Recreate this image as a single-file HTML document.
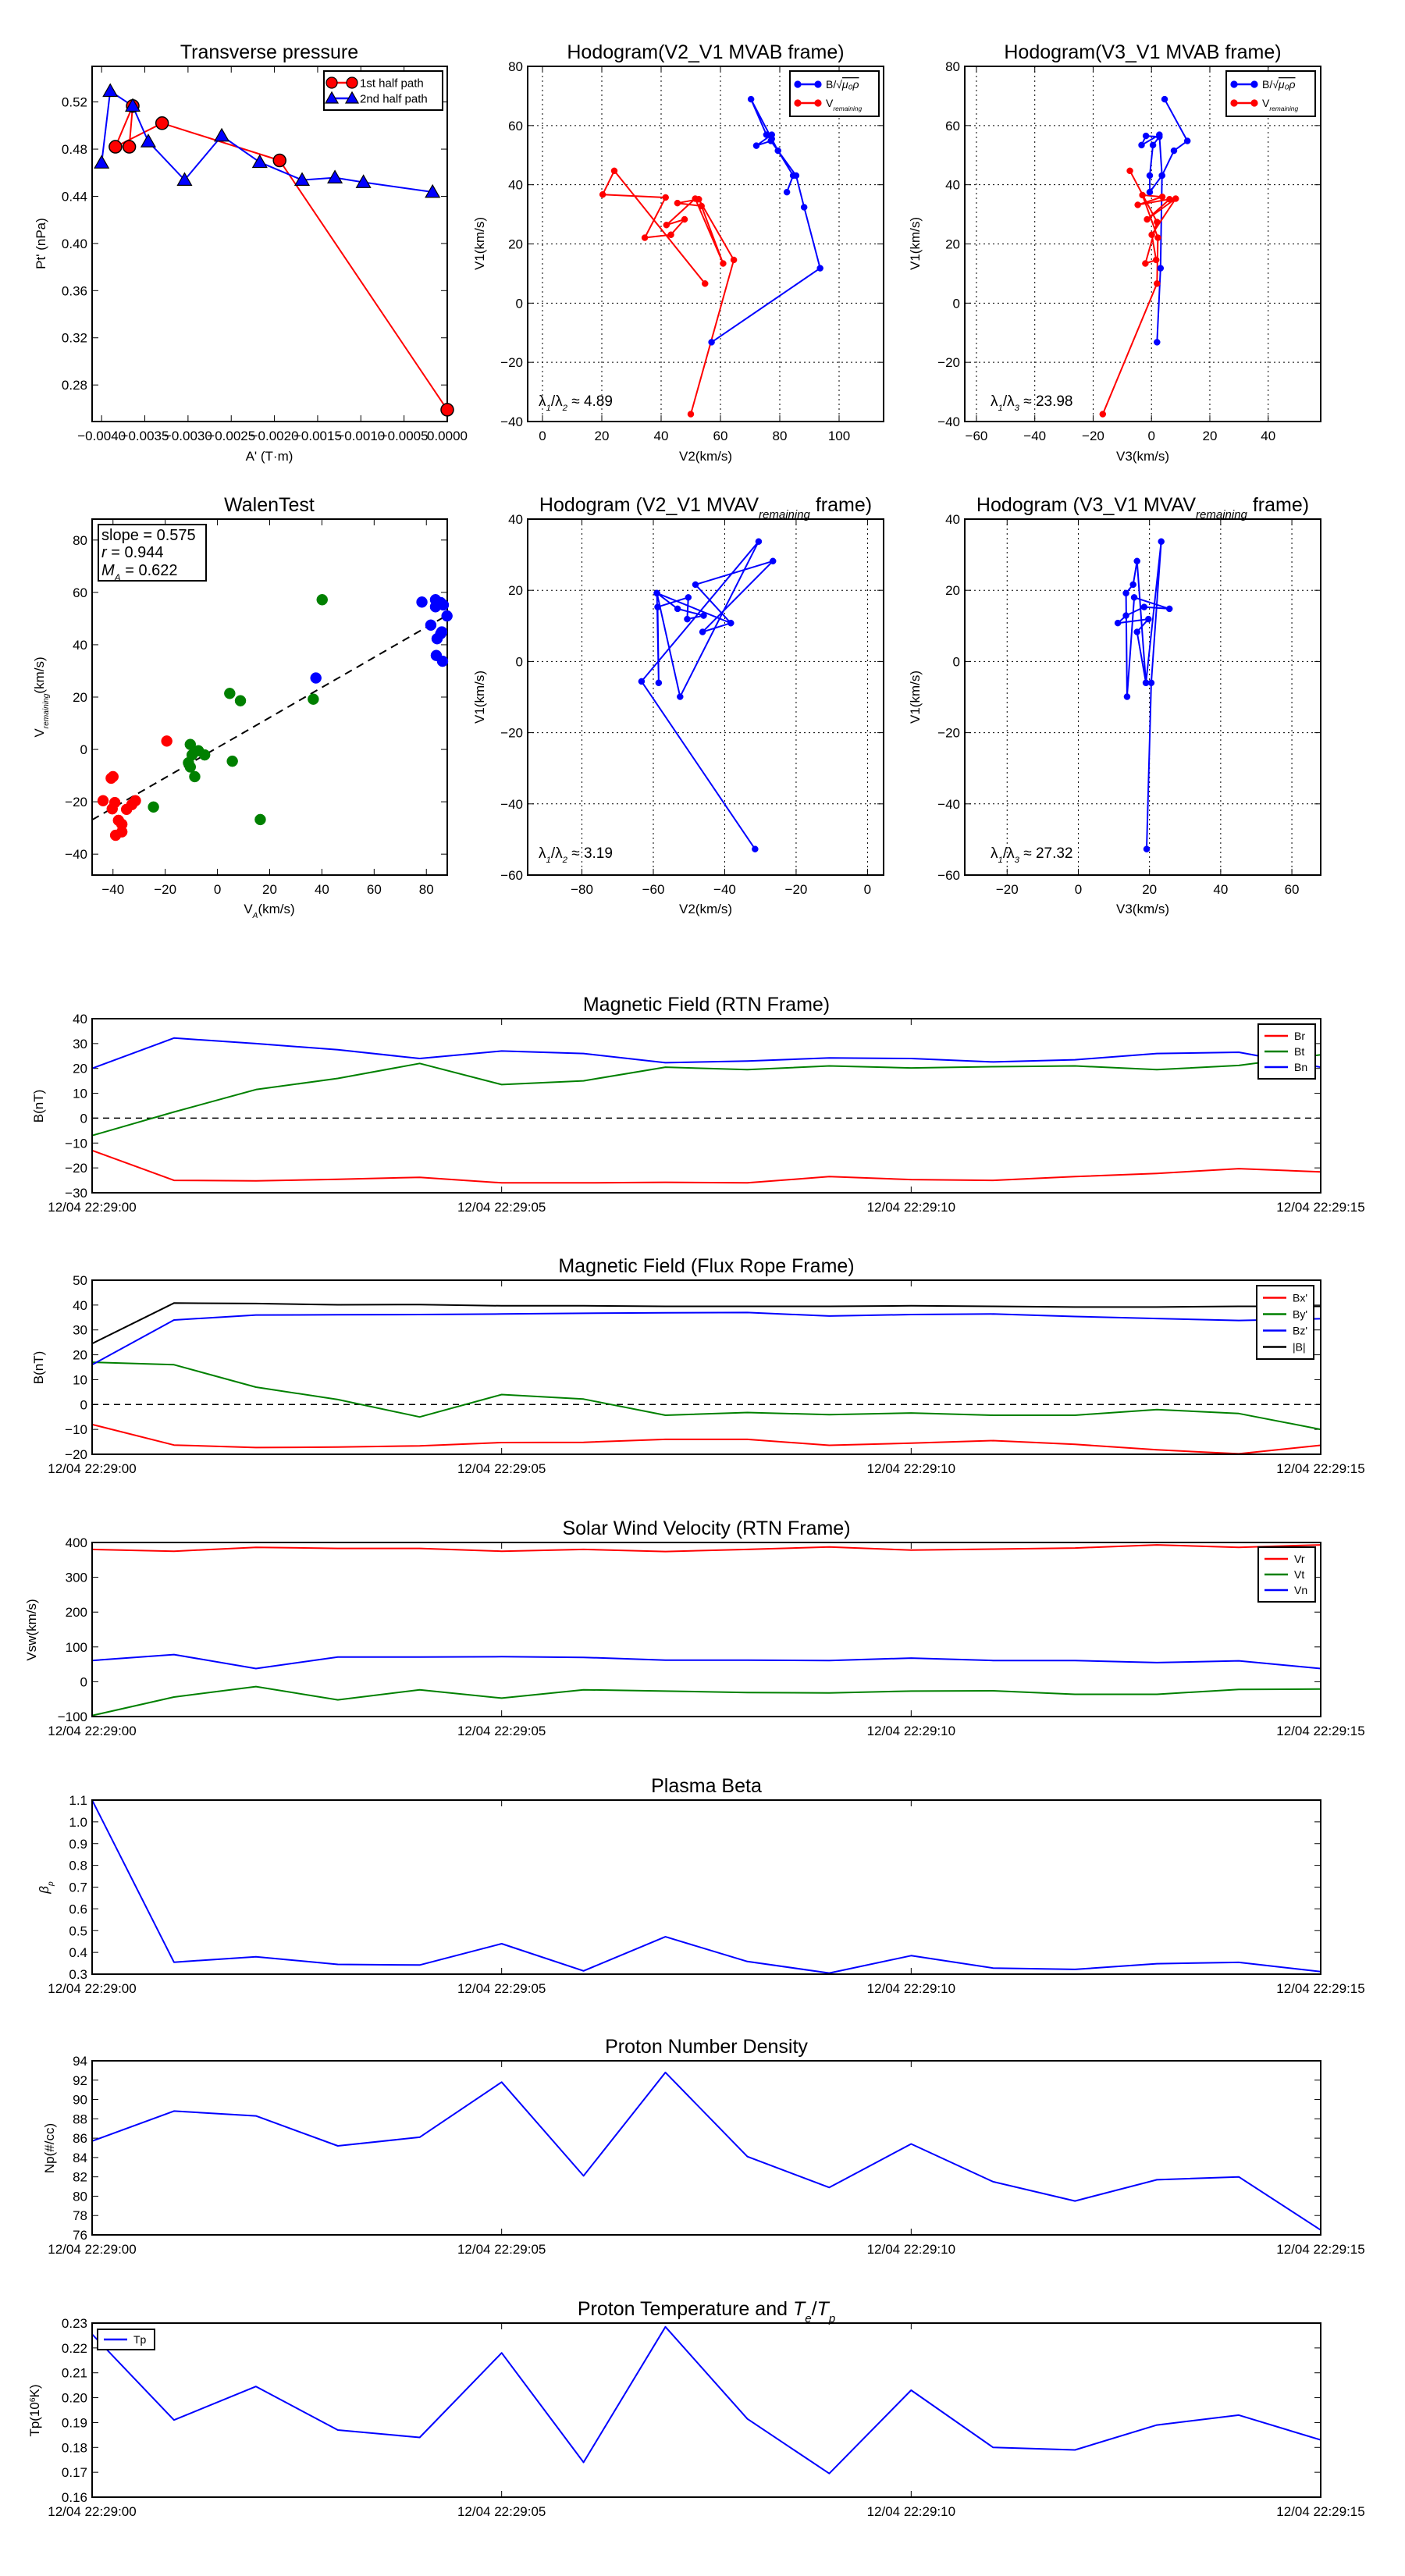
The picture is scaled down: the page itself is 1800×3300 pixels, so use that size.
<!DOCTYPE html>
<html><head><meta charset="utf-8"><style>
html,body{margin:0;padding:0;background:#fff}
svg{display:block;font-family:"Liberation Sans","DejaVu Sans",sans-serif}
</style></head><body>
<svg id="fig" xmlns="http://www.w3.org/2000/svg" width="1800" height="3300" viewBox="0 0 1800 3300"></svg>
<script>
// ---------- DATA ----------
const tpRedX=[-0.00368,-0.00364,-0.00384,-0.0033,-0.00194,0.0];
const tpRedY=[0.482,0.5166,0.482,0.502,0.4704,0.259];
const tpBlueX=[-0.0040,-0.0039,-0.00364,-0.00346,-0.00304,-0.00261,-0.00217,-0.00168,-0.0013,-0.00097,-0.00017];
const tpBlueY=[0.4684,0.5292,0.5166,0.4864,0.4538,0.4913,0.4689,0.4538,0.4558,0.4519,0.4436];
const tpXTicks=[-0.0040,-0.0035,-0.0030,-0.0025,-0.0020,-0.0015,-0.0010,-0.0005,0.0];
const tpXTickLabels=["\u22120.0040","\u22120.0035","\u22120.0030","\u22120.0025","\u22120.0020","\u22120.0015","\u22120.0010","\u22120.0005","0.0000"];
const tpYTicks=[0.28,0.32,0.36,0.40,0.44,0.48,0.52];

const h2bV2=[57,93.6,88.2,85.5,77,72.1,77.3,75.5,70.3,77.3,79.4,84.5,82.4];
const h2bV1=[-13.2,11.8,32.4,43.1,54.8,53.2,56.9,56.9,68.9,55.5,51.5,43.1,37.5];
const h2rV2=[50,64.5,52.7,45.5,53.6,60.9,51.5,41.8,47.9,43.3,34.5,41.5,20.3,24.2,54.8];
const h2rV1=[-37.5,14.6,35.1,33.8,32.8,13.4,35.3,26.4,28.3,23.1,22.1,35.7,36.7,44.7,6.6];

const h3bV3=[1.9,3.1,3.6,2.7,-3.4,-1.9,2.7,0.5,-0.6,-0.6,3.6,7.7,12.3,4.5];
const h3bV1=[-13.2,11.8,43.1,56.9,53.4,56.5,56.2,53.4,43.1,37.5,43.1,51.5,54.8,68.9];
const h3rV3=[-16.7,1.9,2.2,-3.1,3.7,-4.7,6.2,-1.5,8.3,0.1,1.6,-2.1,1.9,-7.4];
const h3rV1=[-37.5,6.6,22.1,36.5,35.9,33.2,35.1,28.3,35.3,23.1,14.6,13.4,27.4,44.7];

const walBlueX=[78.3,83.5,83.5,85.5,86.5,87.9,81.7,85.9,84.1,83.8,86.2,37.7,85.5];
const walBlueY=[56.3,57.2,54.5,56.1,55.2,51,47.5,44.9,42.3,35.9,33.7,27.3,44.2];
const walGreenX=[40.1,4.7,8.8,36.7,-10.4,-7.3,-9.7,-4.9,-11.1,-10.4,5.7,-8.7,-24.5,16.4];
const walGreenY=[57.2,21.4,18.6,19.2,1.9,-0.5,-2.1,-2.1,-5.1,-6.7,-4.5,-10.4,-22,-26.8];
const walRedX=[-19.4,-40,-40.7,-43.8,-39.3,-40.3,-34.8,-32.8,-31.4,-37.9,-36.6,-36.6,-39];
const walRedY=[3.2,-10.4,-11,-19.6,-20.3,-22.7,-22.9,-21.1,-19.6,-27.1,-28.6,-31.5,-32.8];
const walSlope=0.575, walIntercept=0.7;

const h4V2=[-31.5,-63.3,-30.5,-52.5,-59,-58.5,-58.8,-50.2,-50.5,-45.9,-53.2,-59,-38.3,-48.2,-26.5,-46.2,-38.3];
const h4V1=[-52.7,-5.6,33.7,-9.9,19.2,-6,15.3,18,11.9,12.9,14.8,19.2,10.8,21.6,28.2,8.3,10.8];
const h5V3=[19.2,20.5,23.3,19,16.5,15.4,13.4,13.7,15.7,25.6,18.5,13.4,11.1,19.7,16.5,19];
const h5V1=[-52.7,-6,33.7,-6,28.2,21.6,19.2,-9.9,18,14.8,15.3,12.9,10.8,11.9,8.3,-6];

const timeSec=[0,1,2,3,4,5,6,7,8,9,10,11,12,13,14,15];
const timeTicks=[0,5,10,15];
const timeTickLabels=["12/04 22:29:00","12/04 22:29:05","12/04 22:29:10","12/04 22:29:15"];
const Br=[-13,-25,-25.2,-24.6,-23.8,-26,-26,-25.8,-26,-23.5,-24.7,-25,-23.5,-22.2,-20.3,-21.6];
const Bt=[-7,2.5,11.5,16,22,13.5,15,20.5,19.5,21,20.2,20.7,21,19.5,21.2,25.5];
const Bn=[20,32.2,30,27.5,24,27,26,22.3,23,24.2,24,22.6,23.5,26,26.5,20.5];
const Bx=[-8,-16.3,-17.3,-17.1,-16.6,-15.3,-15.2,-14,-14,-16.4,-15.5,-14.5,-16,-18.2,-19.8,-16.4];
const By=[17,16,7,2,-5,4,2.2,-4.3,-3.2,-4.1,-3.4,-4.3,-4.3,-2,-3.6,-10];
const Bz=[16,34,36,36.1,36.2,36.4,36.7,36.9,37,35.6,36.2,36.4,35.4,34.6,33.8,34.5];
const Bmag=[24.5,40.8,40.6,40.1,40.2,39.7,39.7,39.5,39.5,39.5,39.7,39.5,39.2,39.2,39.5,39.5];
const Vr=[380,375,386,383,383,375,380,374,380,387,378,381,384,393,386,393];
const Vt=[-97,-44,-14,-52,-23,-47,-23,-27,-31,-32,-27,-26,-36,-36,-22,-21];
const Vn=[61,78,38,71,71,72,70,62,62,61,68,61,61,55,60,38];
const beta=[1.1,0.355,0.38,0.345,0.342,0.44,0.315,0.472,0.358,0.305,0.385,0.328,0.322,0.348,0.354,0.312];
const Np=[85.7,88.8,88.3,85.2,86.1,91.8,82.1,92.8,84.1,80.9,85.4,81.5,79.5,81.7,82,76.5];
const Tp=[0.2255,0.191,0.2045,0.187,0.184,0.218,0.174,0.2285,0.1915,0.1695,0.203,0.180,0.179,0.189,0.193,0.183];

// ---------- HELPERS ----------
const NS='http://www.w3.org/2000/svg';
const svg=document.getElementById('fig');
function mk(tag,attrs,parent){const e=document.createElementNS(NS,tag);for(const k in attrs)e.setAttribute(k,attrs[k]);(parent||svg).appendChild(e);return e;}
let clipN=0;
function fmt(v,d){const s=Math.abs(v).toFixed(d);return (v<0?'\u2212':'')+s;}
function axes(name,L,T,W,H,xd,yd,xt,xtl,yt,ytl,grid){
  const sx=v=>L+(v-xd[0])/(xd[1]-xd[0])*W;
  const sy=v=>T+H-(v-yd[0])/(yd[1]-yd[0])*H;
  const g=mk('g',{});
  
  
  const id='c'+(clipN++);
  const cp=mk('clipPath',{id:id},g);mk('rect',{x:L,y:T,width:W,height:H},cp);
  const grp=mk('g',{},g);
  
  
  xt.forEach((v,i)=>{const x=sx(v);
    if(grid){const gl=mk('line',{x1:x,x2:x,y1:T,y2:T+H,stroke:'#000','stroke-width':1,'stroke-dasharray':'2,4'},grp);}
    mk('line',{x1:x,x2:x,y1:T+H,y2:T+H-8,stroke:'#000','stroke-width':1},grp);
    mk('line',{x1:x,x2:x,y1:T,y2:T+8,stroke:'#000','stroke-width':1},grp);
    const t=mk('text',{x:x,y:T+H+24,'font-size':17,'text-anchor':'middle'},grp);t.textContent=xtl[i];
    
  });
  yt.forEach((v,i)=>{const y=sy(v);
    if(grid){const gl=mk('line',{x1:L,x2:L+W,y1:y,y2:y,stroke:'#000','stroke-width':1,'stroke-dasharray':'2,4'},grp);}
    mk('line',{x1:L,x2:L+8,y1:y,y2:y,stroke:'#000','stroke-width':1},grp);
    mk('line',{x1:L+W,x2:L+W-8,y1:y,y2:y,stroke:'#000','stroke-width':1},grp);
    const t=mk('text',{x:L-6,y:y+6,'font-size':17,'text-anchor':'end'},grp);t.textContent=ytl[i];
    
  });
  const data=mk('g',{'clip-path':'url(#'+id+')'},g);
  
  
  return {sx,sy,g,data,L,T,W,H};
}
function frame(a){const r=mk('rect',{x:a.L,y:a.T,width:a.W,height:a.H,fill:'none',stroke:'#000','stroke-width':2},a.g);
  }
function line(a,xs,ys,color,nm,w){const p=xs.map((x,i)=>a.sx(x).toFixed(1)+','+a.sy(ys[i]).toFixed(1)).join(' ');
  const e=mk('polyline',{points:p,fill:'none',stroke:color,'stroke-width':w||2,'stroke-linejoin':'round'},a.data);
  return e;}
function dots(a,xs,ys,color,r,nm,edge){xs.forEach((x,i)=>{const c=mk('circle',{cx:a.sx(x),cy:a.sy(ys[i]),r:r,fill:color,stroke:edge||color,'stroke-width':edge?1.5:0.5},a.g);
  });}
function tris(a,xs,ys,color,s,nm){xs.forEach((x,i)=>{const X=a.sx(x),Y=a.sy(ys[i]);
  const t=mk('polygon',{points:`${X},${Y-s} ${X-s},${Y+s*0.75} ${X+s},${Y+s*0.75}`,fill:color,stroke:'#000','stroke-width':1.2},a.g);
  });}
function title(x,y,txt,nm){const t=mk('text',{x:x,y:y,'font-size':25,'text-anchor':'middle'});t.innerHTML=txt;
  return t;}
function ylab(x,y,txt,nm,fs){const t=mk('text',{x:x,y:y,'font-size':fs||17,'text-anchor':'middle',transform:`rotate(-90 ${x} ${y})`});t.innerHTML=txt;
  }
function xlab(x,y,txt,nm){const t=mk('text',{x:x,y:y,'font-size':17,'text-anchor':'middle'});t.innerHTML=txt;
  }
function txt(x,y,s,fs,nm){const t=mk('text',{x:x,y:y,'font-size':fs});t.innerHTML=s;
  }
function legend(x,y,w,entries,fs,dy,nm){const g=mk('g',{});
  
  mk('rect',{x:x,y:y,width:w,height:dy*entries.length+10,fill:'#fff',stroke:'#000','stroke-width':2},g);
  entries.forEach((e,i)=>{const cy=y+5+dy*(i+0.5);
    mk('line',{x1:x+8,x2:x+38,y1:cy,y2:cy,stroke:e.c,'stroke-width':2.5},g);
    if(e.m==='o'){mk('circle',{cx:x+10,cy:cy,r:e.r||4,fill:e.c,stroke:e.edge||e.c,'stroke-width':1.2},g);mk('circle',{cx:x+36,cy:cy,r:e.r||4,fill:e.c,stroke:e.edge||e.c,'stroke-width':1.2},g);}
    if(e.m==='^'){[x+10,x+36].forEach(X=>mk('polygon',{points:`${X},${cy-8} ${X-8},${cy+6} ${X+8},${cy+6}`,fill:e.c,stroke:'#000','stroke-width':1.2},g));}
    const t=mk('text',{x:x+46,y:cy+fs*0.35,'font-size':fs},g);t.innerHTML=e.t;});
}
const sub=s=>`<tspan baseline-shift="sub" font-size="0.6em" font-style="italic">${s}</tspan>`;

// ---------- TRANSVERSE PRESSURE ----------
{const a=axes('transverse-pressure-axes',118,85,455,455,[-0.00411,0],[0.249,0.5502],tpXTicks,tpXTickLabels,tpYTicks,tpYTicks.map(v=>v.toFixed(2)),false);
 line(a,tpRedX,tpRedY,'#f00','first-half-path-line');
 line(a,tpBlueX,tpBlueY,'#00f','second-half-path-line');
 frame(a);
 dots(a,tpRedX,tpRedY,'#f00',8,'first-half-point','#000');
 tris(a,tpBlueX,tpBlueY,'#00f',9,'second-half-point');
 legend(415,91,152,[{c:'#f00',m:'o',r:7,edge:'#000',t:'1st half path'},{c:'#00f',m:'^',t:'2nd half path'}],15,20,'pressure-legend');
 title(345,75,'Transverse pressure','pressure-title');
 ylab(58,312,"Pt' (nPa)",'pressure-y-label');
 xlab(345,590,"A' (T\u00b7m)",'pressure-x-label');}

// ---------- HODOGRAM V2_V1 MVAB ----------
{const xt=[0,20,40,60,80,100],yt=[-40,-20,0,20,40,60,80];
 const a=axes('hodogram-v2-mvab-axes',676,85,456,455,[-5,115],[-40,80],xt,xt.map(v=>fmt(v,0)),yt,yt.map(v=>fmt(v,0)),true);
 line(a,h2bV2,h2bV1,'#00f','b-alfven-path');line(a,h2rV2,h2rV1,'#f00','v-remaining-path');frame(a);
 dots(a,h2bV2,h2bV1,'#00f',4,'b-point');dots(a,h2rV2,h2rV1,'#f00',4,'v-point');
 legend(1012,91,114,[{c:'#00f',m:'o',t:'B/\u221A<tspan text-decoration="overline" font-style="italic">\u03bc\u2080\u03c1</tspan>'},{c:'#f00',m:'o',t:'V'+sub('remaining')}],14,24,'hodogram-v2-mvab-legend');
 txt(690,520,'\u03bb'+sub('1')+'/\u03bb'+sub('2')+' \u2248 4.89',19,'eigen-ratio-text');
 title(904,75,'Hodogram(V2_V1 MVAB frame)','hodogram-v2-mvab-title');
 ylab(620,312,'V1(km/s)','hodogram-v2-mvab-y-label');xlab(904,590,'V2(km/s)','hodogram-v2-mvab-x-label');}

// ---------- HODOGRAM V3_V1 MVAB ----------
{const xt=[-60,-40,-20,0,20,40],yt=[-40,-20,0,20,40,60,80];
 const a=axes('hodogram-v3-mvab-axes',1236,85,456,455,[-64,58],[-40,80],xt,xt.map(v=>fmt(v,0)),yt,yt.map(v=>fmt(v,0)),true);
 line(a,h3bV3,h3bV1,'#00f','b-alfven-path');line(a,h3rV3,h3rV1,'#f00','v-remaining-path');frame(a);
 dots(a,h3bV3,h3bV1,'#00f',4,'b-point');dots(a,h3rV3,h3rV1,'#f00',4,'v-point');
 legend(1571,91,114,[{c:'#00f',m:'o',t:'B/\u221A<tspan text-decoration="overline" font-style="italic">\u03bc\u2080\u03c1</tspan>'},{c:'#f00',m:'o',t:'V'+sub('remaining')}],14,24,'hodogram-v3-mvab-legend');
 txt(1269,520,'\u03bb'+sub('1')+'/\u03bb'+sub('3')+' \u2248 23.98',19,'eigen-ratio-text');
 title(1464,75,'Hodogram(V3_V1 MVAB frame)','hodogram-v3-mvab-title');
 ylab(1178,312,'V1(km/s)','hodogram-v3-mvab-y-label');xlab(1464,590,'V3(km/s)','hodogram-v3-mvab-x-label');}

// ---------- WALEN TEST ----------
{const xt=[-40,-20,0,20,40,60,80],yt=[-40,-20,0,20,40,60,80];
 const a=axes('walen-test-axes',118,665,455,456,[-48,88],[-48,88],xt,xt.map(v=>fmt(v,0)),yt,yt.map(v=>fmt(v,0)),false);
 const fx=[-48,88];const fl=line(a,fx,fx.map(v=>walSlope*v+walIntercept),'#000','fit-line',2);fl.setAttribute('stroke-dasharray','10,7');
 frame(a);
 dots(a,walBlueX,walBlueY,'#00f',7,'walen-point-blue');dots(a,walGreenX,walGreenY,'#008000',7,'walen-point-green');dots(a,walRedX,walRedY,'#f00',7,'walen-point-red');
 const b=mk('rect',{x:126,y:672,width:138,height:72,fill:'#fff',stroke:'#000','stroke-width':2});
 txt(130,692,'slope = 0.575',20,'slope-text');txt(130,714,'<tspan font-style="italic">r</tspan> = 0.944',20,'r-text');txt(130,737,'<tspan font-style="italic">M</tspan>'+sub('A')+' = 0.622',20,'ma-text');
 title(345,655,'WalenTest','walen-title');
 ylab(56,893,'V'+sub('remaining')+'(km/s)','walen-y-label');xlab(345,1170,'V'+sub('A')+'(km/s)','walen-x-label');}

// ---------- HODOGRAM V2_V1 MVAV ----------
{const xt=[-80,-60,-40,-20,0],yt=[-60,-40,-20,0,20,40];
 const a=axes('hodogram-v2-mvav-axes',676,665,456,456,[-95.2,4.5],[-60,40],xt,xt.map(v=>fmt(v,0)),yt,yt.map(v=>fmt(v,0)),true);
 line(a,h4V2,h4V1,'#00f','v-path');frame(a);dots(a,h4V2,h4V1,'#00f',4,'v-point');
 txt(690,1099,'\u03bb'+sub('1')+'/\u03bb'+sub('2')+' \u2248 3.19',19,'eigen-ratio-text');
 title(904,655,'Hodogram (V2_V1 MVAV'+sub('remaining')+' frame)','hodogram-v2-mvav-title');
 ylab(620,893,'V1(km/s)','hodogram-v2-mvav-y-label');xlab(904,1170,'V2(km/s)','hodogram-v2-mvav-x-label');}

// ---------- HODOGRAM V3_V1 MVAV ----------
{const xt=[-20,0,20,40,60],yt=[-60,-40,-20,0,20,40];
 const a=axes('hodogram-v3-mvav-axes',1236,665,456,456,[-31.9,68.1],[-60,40],xt,xt.map(v=>fmt(v,0)),yt,yt.map(v=>fmt(v,0)),true);
 line(a,h5V3,h5V1,'#00f','v-path');frame(a);dots(a,h5V3,h5V1,'#00f',4,'v-point');
 txt(1269,1099,'\u03bb'+sub('1')+'/\u03bb'+sub('3')+' \u2248 27.32',19,'eigen-ratio-text');
 title(1464,655,'Hodogram (V3_V1 MVAV'+sub('remaining')+' frame)','hodogram-v3-mvav-title');
 ylab(1178,893,'V1(km/s)','hodogram-v3-mvav-y-label');xlab(1464,1170,'V3(km/s)','hodogram-v3-mvav-x-label');}

// ---------- TIME SERIES ----------
function ts(name,T,yd,yt,ytl,series,ttl,yl,leg,zero,ylx){
  const a=axes(name,118,T,1574,223,[0,15],yd,timeTicks,timeTickLabels,yt,ytl,false);
  if(zero){const z=line(a,[0,15],[0,0],'#000','zero-line',1.5);z.setAttribute('stroke-dasharray','8,6');}
  series.forEach(s=>line(a,timeSec,s.v,s.c,s.n));
  frame(a);
  if(leg)legend(leg[0],leg[1],73,series.map(s=>({c:s.c,t:s.t})),14,leg[2],name+'-legend');
  title(905,T-10,ttl,name+'-title');
  ylab(ylx||55,T+112,yl,name+'-y-label');
}
ts('magnetic-field-rtn',1305,[-30,40],[-30,-20,-10,0,10,20,30,40],[-30,-20,-10,0,10,20,30,40].map(v=>fmt(v,0)),
  [{v:Br,c:'#f00',n:'br-line',t:'Br'},{v:Bt,c:'#008000',n:'bt-line',t:'Bt'},{v:Bn,c:'#00f',n:'bn-line',t:'Bn'}],
  'Magnetic Field (RTN Frame)','B(nT)',[1612,1312,20],true);
ts('magnetic-field-flux-rope',1640,[-20,50],[-20,-10,0,10,20,30,40,50],[-20,-10,0,10,20,30,40,50].map(v=>fmt(v,0)),
  [{v:Bx,c:'#f00',n:'bx-line',t:"Bx'"},{v:By,c:'#008000',n:'by-line',t:"By'"},{v:Bz,c:'#00f',n:'bz-line',t:"Bz'"},{v:Bmag,c:'#000',n:'bmag-line',t:'|B|'}],
  'Magnetic Field (Flux Rope Frame)','B(nT)',[1610,1647,21],true);
ts('solar-wind-velocity',1976,[-100,400],[-100,0,100,200,300,400],[-100,0,100,200,300,400].map(v=>fmt(v,0)),
  [{v:Vr,c:'#f00',n:'vr-line',t:'Vr'},{v:Vt,c:'#008000',n:'vt-line',t:'Vt'},{v:Vn,c:'#00f',n:'vn-line',t:'Vn'}],
  'Solar Wind Velocity (RTN Frame)','Vsw(km/s)',[1612,1982,20],false,46);
ts('plasma-beta',2306,[0.3,1.1],[0.3,0.4,0.5,0.6,0.7,0.8,0.9,1.0,1.1],[0.3,0.4,0.5,0.6,0.7,0.8,0.9,1.0,1.1].map(v=>v.toFixed(1)),
  [{v:beta,c:'#00f',n:'beta-line',t:'beta'}],'Plasma Beta','<tspan font-style="italic">\u03b2</tspan>'+sub('p'),null,false,62);
ts('proton-density',2640,[76,94],[76,78,80,82,84,86,88,90,92,94],[76,78,80,82,84,86,88,90,92,94].map(String),
  [{v:Np,c:'#00f',n:'np-line',t:'Np'}],'Proton Number Density','Np(#/cc)',null,false,69);
ts('proton-temperature',2976,[0.16,0.23],[0.16,0.17,0.18,0.19,0.20,0.21,0.22,0.23],[0.16,0.17,0.18,0.19,0.20,0.21,0.22,0.23].map(v=>v.toFixed(2)),
  [{v:Tp,c:'#00f',n:'tp-line',t:'Tp'}],'Proton Temperature and <tspan font-style="italic">T</tspan>'+sub('e')+'/<tspan font-style="italic">T</tspan>'+sub('p'),'Tp(10<tspan baseline-shift="super" font-size="0.6em">6</tspan>K)',[125,2984,16],false,50);
</script>
</body></html>
